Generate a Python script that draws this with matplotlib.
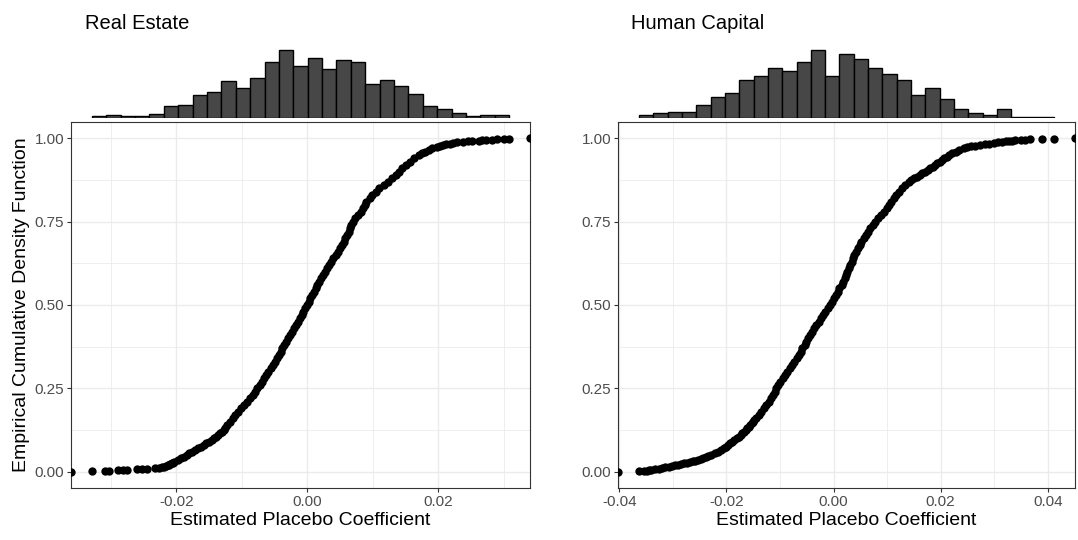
import numpy as np
import matplotlib
matplotlib.use('Agg')
import matplotlib.pyplot as plt
from matplotlib.ticker import FixedLocator

plt.rcParams['font.family'] = ['Liberation Sans', 'DejaVu Sans']

# ---------------- data ----------------
panel_titles = ["Real Estate", "Human Capital"]
x_label = "Estimated Placebo Coefficient"
y_label = "Empirical Cumulative Density Function"

# histogram counts (29 equal bins spanning the data range)
re_hist_counts = [3, 4, 3, 3, 6, 16, 18, 30, 34, 49, 40, 53, 74, 89, 69, 79, 65,
                  76, 74, 45, 50, 42, 32, 16, 12, 7, 3, 4, 4]
hc_hist_counts = [4, 7, 8, 8, 17, 27, 32, 49, 53, 64, 60, 71, 86, 54, 82, 75, 64,
                  56, 49, 29, 38, 25, 12, 7, 4, 12, 2, 2, 2]

# ECDF points: cumulative share and coefficient
re_ecdf_y = [0.001, 0.002, 0.003, 0.004, 0.005, 0.006, 0.007, 0.008, 0.009, 0.010,
             0.011, 0.013, 0.015, 0.017, 0.019, 0.021, 0.023, 0.025, 0.027, 0.030,
             0.035, 0.040, 0.045, 0.050, 0.055, 0.060, 0.065, 0.070, 0.075, 0.080,
             0.085, 0.090, 0.095, 0.100, 0.105, 0.110, 0.115, 0.120, 0.125, 0.130,
             0.14, 0.15, 0.16, 0.17, 0.18, 0.19, 0.20, 0.21, 0.22, 0.23, 0.24, 0.25,
             0.26, 0.27, 0.28, 0.29, 0.30, 0.31, 0.32, 0.33, 0.34, 0.35, 0.36, 0.37,
             0.38, 0.39, 0.40, 0.41, 0.42, 0.43, 0.44, 0.45, 0.46, 0.47, 0.48, 0.49,
             0.50, 0.51, 0.52, 0.53, 0.54, 0.55, 0.56, 0.57, 0.58, 0.59, 0.60, 0.61,
             0.62, 0.63, 0.64, 0.65, 0.66, 0.67, 0.68, 0.69, 0.70, 0.71, 0.72, 0.73,
             0.74, 0.75, 0.76, 0.77, 0.78, 0.79, 0.80, 0.81, 0.82, 0.83, 0.84, 0.85,
             0.86, 0.87, 0.88, 0.89, 0.90, 0.91, 0.92, 0.93, 0.94, 0.95, 0.955, 0.96,
             0.965, 0.97, 0.975, 0.978, 0.980, 0.982, 0.984, 0.986, 0.988, 0.990,
             0.991, 0.992, 0.993, 0.994, 0.995, 0.996, 0.997, 0.998, 0.999]
re_ecdf_x = [-0.0329, -0.0309, -0.0303, -0.0289, -0.0282, -0.0275, -0.0260, -0.0252,
             -0.0245, -0.0232, -0.0226, -0.0222, -0.0219, -0.0216, -0.0213, -0.0211,
             -0.0209, -0.0207, -0.0205, -0.0203, -0.0198, -0.0193, -0.0188, -0.0184,
             -0.0180, -0.0176, -0.0172, -0.0167, -0.0162, -0.0158, -0.0154, -0.0150,
             -0.0146, -0.0143, -0.0140, -0.0137, -0.0134, -0.0131, -0.0128, -0.0126,
             -0.0122, -0.0118, -0.0114, -0.0110, -0.0106, -0.0102, -0.0097, -0.0092,
             -0.0087, -0.0083, -0.0080, -0.0077, -0.0073, -0.0070, -0.0066, -0.0063,
             -0.0060, -0.0056, -0.0053, -0.0050, -0.0047, -0.0044, -0.0041, -0.0038,
             -0.0035, -0.0032, -0.0029, -0.0026, -0.0023, -0.0020, -0.0017, -0.0014,
             -0.0011, -0.0008, -0.0006, -0.0003, -0.0001, 0.0002, 0.0004, 0.0007,
             0.0010, 0.0013, 0.0015, 0.0018, 0.0021, 0.0024, 0.0027, 0.0030, 0.0033,
             0.0036, 0.0039, 0.0043, 0.0046, 0.0050, 0.0053, 0.0056, 0.0058, 0.0061,
             0.0063, 0.0065, 0.0067, 0.0069, 0.0073, 0.0078, 0.0082, 0.0085, 0.0088,
             0.0090, 0.0095, 0.0099, 0.0104, 0.0110, 0.0117, 0.0123, 0.0129, 0.0135,
             0.0140, 0.0145, 0.0150, 0.0157, 0.0163, 0.0170, 0.0175, 0.0180, 0.0185,
             0.0190, 0.0198, 0.0203, 0.0207, 0.0212, 0.0217, 0.0223, 0.0229, 0.0238,
             0.0245, 0.0252, 0.0262, 0.0267, 0.0273, 0.0282, 0.0290, 0.0300, 0.0308]

hc_ecdf_y = [0.001, 0.002, 0.003, 0.004, 0.005, 0.007, 0.009, 0.011, 0.013, 0.015,
             0.017, 0.019, 0.021, 0.023, 0.025, 0.027, 0.029, 0.031, 0.033, 0.035,
             0.038, 0.041, 0.044, 0.047, 0.050, 0.055, 0.060, 0.065, 0.070, 0.075,
             0.080, 0.085, 0.090, 0.095, 0.100, 0.105, 0.110, 0.115, 0.120, 0.125,
             0.130, 0.135, 0.140, 0.145, 0.150, 0.155, 0.16, 0.17, 0.18, 0.19, 0.20,
             0.21, 0.22, 0.23, 0.24, 0.25, 0.26, 0.27, 0.28, 0.29, 0.30, 0.31, 0.32,
             0.33, 0.34, 0.35, 0.36, 0.37, 0.38, 0.39, 0.40, 0.41, 0.42, 0.43, 0.44,
             0.45, 0.46, 0.47, 0.48, 0.49, 0.50, 0.51, 0.52, 0.53, 0.54, 0.55, 0.56,
             0.57, 0.58, 0.59, 0.60, 0.61, 0.62, 0.63, 0.64, 0.65, 0.66, 0.67, 0.68,
             0.69, 0.70, 0.71, 0.72, 0.73, 0.74, 0.75, 0.76, 0.77, 0.78, 0.79, 0.80,
             0.81, 0.82, 0.83, 0.84, 0.85, 0.86, 0.87, 0.875, 0.88, 0.885, 0.89,
             0.895, 0.90, 0.905, 0.91, 0.915, 0.92, 0.925, 0.93, 0.935, 0.94, 0.945,
             0.95, 0.955, 0.96, 0.965, 0.970, 0.973, 0.976, 0.978, 0.980,
             0.982, 0.984, 0.986, 0.988, 0.990, 0.991, 0.992, 0.993, 0.994, 0.995,
             0.996, 0.997, 0.998, 0.999]
hc_ecdf_x = [-0.0363, -0.0353, -0.0349, -0.0345, -0.0340, -0.0333, -0.0326, -0.0320,
             -0.0314, -0.0308, -0.0302, -0.0296, -0.0290, -0.0284, -0.0279, -0.0274,
             -0.0268, -0.0263, -0.0258, -0.0253, -0.0248, -0.0243, -0.0238, -0.0234,
             -0.0229, -0.0222, -0.0216, -0.0210, -0.0205, -0.0201, -0.0197, -0.0193,
             -0.0189, -0.0185, -0.0181, -0.0177, -0.0173, -0.0170, -0.0167, -0.0164,
             -0.0161, -0.0158, -0.0155, -0.0153, -0.0150, -0.0148, -0.0145, -0.0140,
             -0.0135, -0.0130, -0.0126, -0.0121, -0.0117, -0.0113, -0.0110, -0.0107,
             -0.0103, -0.0099, -0.0095, -0.0090, -0.0086, -0.0081, -0.0077, -0.0073,
             -0.0069, -0.0065, -0.0061, -0.0058, -0.0054, -0.0051, -0.0047, -0.0044,
             -0.0040, -0.0036, -0.0032, -0.0028, -0.0024, -0.0020, -0.0015, -0.0010,
             -0.0006, -0.0003, 0.0001, 0.0004, 0.0008, 0.0011, 0.0015, 0.0018, 0.0021,
             0.0023, 0.0026, 0.0028, 0.0031, 0.0034, 0.0036, 0.0039, 0.0042, 0.0045,
             0.0049, 0.0052, 0.0056, 0.0060, 0.0064, 0.0069, 0.0074, 0.0078, 0.0083,
             0.0089, 0.0094, 0.0099, 0.0104, 0.0108, 0.0112, 0.0117, 0.0122, 0.0128,
             0.0134, 0.0140, 0.0145, 0.0150, 0.0156, 0.0161, 0.0166, 0.0171, 0.0176,
             0.0180, 0.0185, 0.0189, 0.0194, 0.0199, 0.0203, 0.0207, 0.0212,
             0.0216, 0.0221, 0.0228, 0.0235, 0.0243, 0.0249, 0.0257, 0.0265, 0.0273,
             0.0282, 0.0291, 0.0299, 0.0307, 0.0315, 0.0322, 0.0328, 0.0334, 0.0339,
             0.0350, 0.0358, 0.0367, 0.0389, 0.0412]

re_xticks = [-0.02, 0.00, 0.02]
re_xminor = [-0.03, -0.01, 0.01, 0.03]
hc_xticks = [-0.04, -0.02, 0.00, 0.02, 0.04]
hc_xminor = [-0.03, -0.01, 0.01, 0.03]
y_ticks = [0.00, 0.25, 0.50, 0.75, 1.00]
y_minor = [0.125, 0.375, 0.625, 0.875]

# ---------------- styling ----------------
W, H = 1078, 540
fig = plt.figure(figsize=(W / 100, H / 100), dpi=100)
fig.patch.set_facecolor('white')

grid_col = '#EBEBEB'
border_col = '#333333'
text_col = '#4D4D4D'
bar_fill = '#474747'
msize = 36

def fx(px):
    return px / W

def fy(py):
    return 1 - py / H

panels = [
    dict(title=panel_titles[0], ex=re_ecdf_x, ey=re_ecdf_y, counts=re_hist_counts,
         xt=re_xticks, xm=re_xminor, left=71, right=530, title_x=85, ylab=True),
    dict(title=panel_titles[1], ex=hc_ecdf_x, ey=hc_ecdf_y, counts=hc_hist_counts,
         xt=hc_xticks, xm=hc_xminor, left=618.3, right=1075, title_x=631, ylab=False),
]

sc_top, sc_bot = 121.7, 488.3
hi_top, hi_bot = 47, 118.3

for p in panels:
    ax = fig.add_axes([fx(p['left']), fy(sc_bot), fx(p['right'] - p['left']),
                       (sc_bot - sc_top) / H])
    axh = fig.add_axes([fx(p['left']), fy(hi_bot), fx(p['right'] - p['left']),
                        (hi_bot - hi_top) / H])

    xs = np.array(p['ex'])
    ys = np.array(p['ey'])
    xmin, xmax = xs.min(), xs.max()
    rng = xmax - xmin
    xlim = (xmin - 0.05 * rng, xmax + 0.05 * rng)

    # ECDF scatter
    ax.scatter(xs, ys, s=msize, color='black', linewidths=0, zorder=3)
    # ggplot pads the ECDF with -Inf / +Inf, drawn at panel edges
    ax.scatter([xlim[0], xlim[1]], [0, 1], s=msize, color='black', linewidths=0,
               zorder=3, clip_on=True)
    ax.set_xlim(xlim)
    ax.set_ylim(-0.05, 1.05)

    ax.xaxis.set_major_locator(FixedLocator(p['xt']))
    ax.xaxis.set_minor_locator(FixedLocator(p['xm']))
    ax.yaxis.set_major_locator(FixedLocator(y_ticks))
    ax.yaxis.set_minor_locator(FixedLocator(y_minor))
    ax.set_xticklabels([f"{v:.2f}" for v in p['xt']])
    ax.set_yticklabels([f"{v:.2f}" for v in y_ticks])
    ax.grid(which='major', color=grid_col, lw=1.0, zorder=0)
    ax.grid(which='minor', color=grid_col, lw=0.6, zorder=0)
    ax.set_axisbelow(True)
    ax.tick_params(which='major', length=3, width=0.8, color=border_col,
                   labelsize=11, labelcolor=text_col, pad=2)
    ax.tick_params(which='minor', length=0)
    for s in ax.spines.values():
        s.set_color(border_col)
        s.set_linewidth(0.8)
    ax.set_xlabel(x_label, fontsize=14, color='black', labelpad=2)
    if p['ylab']:
        ax.set_ylabel(y_label, fontsize=14, color='black', labelpad=3)

    # marginal histogram
    counts = np.array(p['counts'])
    edges = np.linspace(xmin, xmax, len(counts) + 1)
    axh.bar(edges[:-1], counts, width=np.diff(edges), align='edge',
            color=bar_fill, edgecolor='black', linewidth=1.0)
    axh.set_xlim(xlim)
    axh.set_ylim(0, counts.max() * 1.05)
    axh.axis('off')

    fig.text(fx(p['title_x']), fy(29), p['title'], fontsize=14.5, color='black',
             ha='left', va='baseline')

fig.savefig('out.png', dpi=100, facecolor='white')
